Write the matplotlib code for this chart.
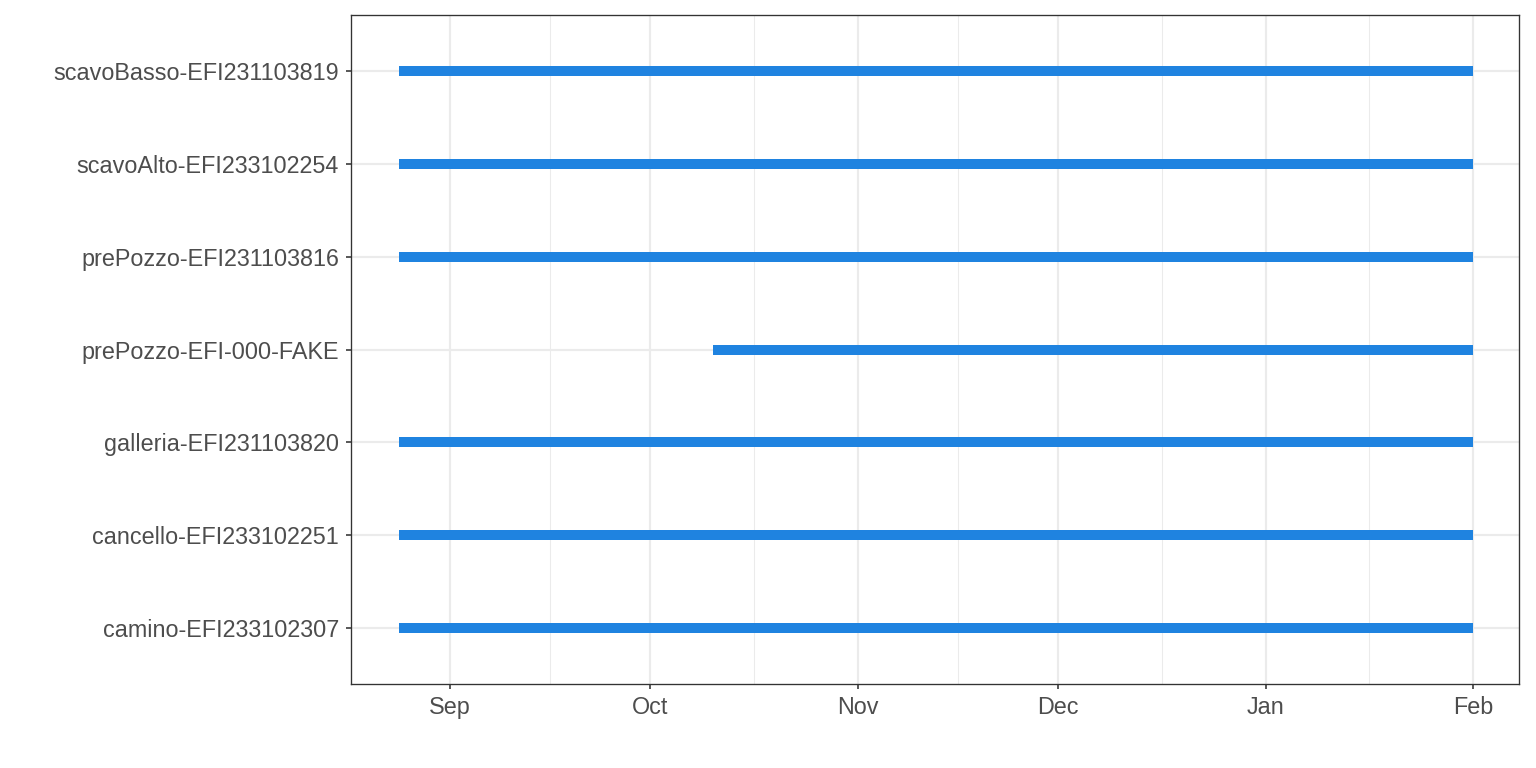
import numpy as np
import pandas as pd
import matplotlib
matplotlib.use("Agg")
import matplotlib.pyplot as plt
import matplotlib.dates as mdates

# --- Data ---
sensors = [
    "camino-EFI233102307",
    "cancello-EFI233102251",
    "galleria-EFI231103820",
    "prePozzo-EFI-000-FAKE",
    "prePozzo-EFI231103816",
    "scavoAlto-EFI233102254",
    "scavoBasso-EFI231103819",
]
start_dates = pd.to_datetime([
    "2023-08-24 10:00", "2023-08-24 10:00", "2023-08-24 10:00", "2023-10-10 07:00",
    "2023-08-24 10:00", "2023-08-24 10:00", "2023-08-24 10:00",
])
end_dates = pd.to_datetime(["2024-02-01"] * 7)

# --- Plot ---
plt.rcParams["font.family"] = ["Liberation Sans", "DejaVu Sans"]
fig = plt.figure(figsize=(16, 8), dpi=96)
ax = fig.add_axes([351 / 1536, 1 - 684 / 768, (1519 - 351) / 1536, (684 - 15) / 768])

y = np.arange(len(sensors))
x0 = mdates.date2num(start_dates)
x1 = mdates.date2num(end_dates)
ax.hlines(y, x0, x1, color="#1f83e0", linewidth=7.5, zorder=3, capstyle="butt")

ax.set_xlim(mdates.date2num(pd.Timestamp("2023-08-17 05:00")),
            mdates.date2num(pd.Timestamp("2024-02-07 22:00")))
ax.set_ylim(-0.6, len(sensors) - 0.4)

major = pd.to_datetime(["2023-09-01", "2023-10-01", "2023-11-01",
                        "2023-12-01", "2024-01-01", "2024-02-01"])
major_num = mdates.date2num(major)
minor_num = (major_num[:-1] + major_num[1:]) / 2
ax.set_xticks(major_num)
ax.set_xticklabels([d.strftime("%b") for d in major])
ax.set_xticks(minor_num, minor=True)
ax.set_yticks(y)
ax.set_yticklabels(sensors)

ax.grid(which="major", color="#ebebeb", linewidth=1.6, zorder=0)
ax.grid(which="minor", axis="x", color="#ebebeb", linewidth=0.8, zorder=0)
ax.set_axisbelow(True)

for s in ax.spines.values():
    s.set_color("#333333")
    s.set_linewidth(1.0)
ax.tick_params(which="major", length=4, width=1.2, color="#333333",
               labelsize=17.5, labelcolor="#4d4d4d")
ax.tick_params(axis="x", pad=5)
ax.tick_params(axis="y", pad=5)
ax.tick_params(which="minor", length=0)

plt.savefig("out.png", dpi=96)
plt.close()
